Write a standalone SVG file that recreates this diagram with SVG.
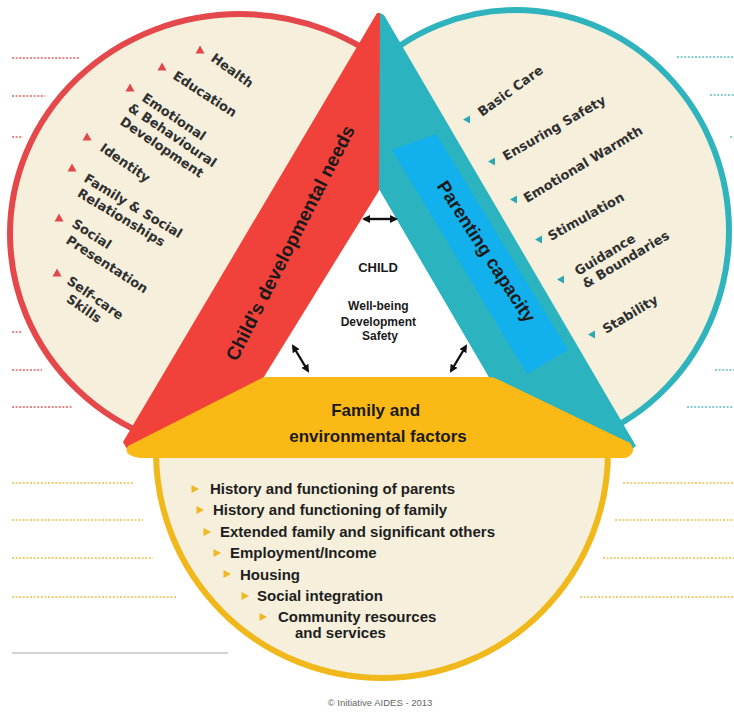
<svg xmlns="http://www.w3.org/2000/svg" width="734" height="713" viewBox="0 0 734 713">
  <defs>
    <style>
      .beige{fill:#f5efdc}
      .lbl{font-family:"DejaVu Sans","Liberation Sans",sans-serif;font-weight:bold;font-size:13px;fill:#303030}
      .lst{font-family:"Liberation Sans",Arial,sans-serif;font-weight:bold;font-size:15px;fill:#1e1e1e}
      .head{font-family:"Liberation Sans",Arial,sans-serif;font-weight:bold;fill:#1a1a1a}
      .dot{stroke-width:2;stroke-dasharray:2 1.6;fill:none}
      .conn{stroke:#111;stroke-width:2.4;fill:none}
    </style>
    <marker id="ah" viewBox="0 0 8 8" refX="6" refY="4" markerWidth="8" markerHeight="8" markerUnits="userSpaceOnUse" orient="auto-start-reverse">
      <path d="M0,0 L8,4 L0,8 Z" fill="#111"/>
    </marker>
    <polygon id="b-red" points="0,-4.5 4.5,3.5 -4.5,3.5" fill="#e2474a"/>
    <polygon id="b-teal" points="-4,-3 4,-3 0,4" fill="#2aa9b4" transform="rotate(-30)"/>
    <polygon id="b-yel" points="-3.5,-4 4,0 -3.5,4" fill="#efb820"/>
  </defs>

  <rect width="734" height="713" fill="#ffffff"/>

  <!-- side rule lines -->
  <g id="rules">
    <g stroke="#e06a6a" class="dot" opacity="0.8">
      <line x1="12" y1="58" x2="80" y2="58"/>
      <line x1="12" y1="96" x2="45" y2="96"/>
      <line x1="12" y1="137" x2="23" y2="137"/>
      <line x1="12" y1="332" x2="22" y2="332"/>
      <line x1="12" y1="370" x2="42" y2="370"/>
      <line x1="12" y1="407" x2="72" y2="407"/>
    </g>
    <g stroke="#6cc0c8" class="dot" opacity="0.8">
      <line x1="677" y1="57" x2="734" y2="57"/>
      <line x1="710" y1="95" x2="734" y2="95"/>
      <line x1="730" y1="137" x2="734" y2="137"/>
      <line x1="715" y1="370" x2="734" y2="370"/>
      <line x1="687" y1="407" x2="734" y2="407"/>
    </g>
    <g stroke="#e8c860" class="dot" opacity="0.85">
      <line x1="12" y1="483" x2="133" y2="483"/>
      <line x1="12" y1="520" x2="143" y2="520"/>
      <line x1="12" y1="558" x2="153" y2="558"/>
      <line x1="12" y1="597" x2="177" y2="597"/>
      <line x1="623" y1="483" x2="734" y2="483"/>
      <line x1="615" y1="520" x2="734" y2="520"/>
      <line x1="603" y1="558" x2="734" y2="558"/>
      <line x1="580" y1="597" x2="734" y2="597"/>
    </g>
    <line x1="12" y1="653" x2="228" y2="653" stroke="#c4c4c4" stroke-width="1.6"/>
  </g>

  <!-- child's developmental needs -->
  <g id="node-needs">
    <ellipse cx="240" cy="234" rx="230" ry="220" class="beige" stroke="#e4484a" stroke-width="6"/>
  </g>

  <!-- parenting capacity -->
  <g id="node-parenting">
    <ellipse cx="516" cy="231" rx="213" ry="221" class="beige" stroke="#2fb4bd" stroke-width="6"/>
  </g>

  <!-- family and environmental factors -->
  <g id="node-family">
    <path d="M156,452 A226,226 0 1 0 608,452 Z" class="beige" stroke="#f1b81c" stroke-width="6"/>
  </g>

  <!-- centre: the child -->
  <g id="node-child">
    <polygon points="379,186 261,380 493,380" fill="#ffffff"/>
    <text class="head" x="378" y="272" font-size="13" text-anchor="middle">CHILD</text>
    <text class="head" font-size="12" text-anchor="middle">
      <tspan x="380" y="310">Well-being</tspan>
      <tspan x="380" y="326">Development</tspan>
      <tspan x="380" y="340">Safety</tspan>
    </text>
  </g>

  <!-- bands of the triangle -->
  <g id="bands">
    <path d="M377,13 L380,13 L380,189 L262,380 L127,449 L123,442 Z" fill="#f0423a"/>
    <path d="M380,13 L384,15 L636,446 L631,450 L490,379 L379,189 Z" fill="#2bb4bf"/>
    <path d="M392,150 L436,134 L568,350 L527,374 Z" fill="#12b0ec"/>
    <path d="M266,377 L489,377 Q493,377 497,379 L630,443 Q638,452 626,458 L140,458 Q122,455 128,446 L260,379 Q263,377 266,377 Z" fill="#fbb915"/>
  </g>

  <!-- band titles -->
  <g id="titles">
    <text class="head" font-size="19" text-anchor="middle" transform="translate(296,246) rotate(-63)">Child’s developmental needs</text>
    <text class="head" font-size="18.5" text-anchor="middle" fill="#14203a" transform="translate(481,255) rotate(57)">Parenting capacity</text>
    <text class="head" font-size="17" text-anchor="middle" fill="#2a1c00">
      <tspan x="378" y="416">Family and</tspan>
      <tspan x="378" y="442">environmental factors</tspan>
    </text>
  </g>

  <!-- left list -->
  <g id="needs-items">
    <use href="#b-red" x="200" y="50"/>
    <use href="#b-red" x="162" y="67"/>
    <use href="#b-red" x="130" y="88"/>
    <use href="#b-red" x="87" y="137"/>
    <use href="#b-red" x="72" y="168"/>
    <use href="#b-red" x="59" y="218"/>
    <use href="#b-red" x="57" y="273"/>
    <text class="lbl" transform="translate(210,60) rotate(36)">Health</text>
    <text class="lbl" transform="translate(172,78) rotate(33)">Education</text>
    <text class="lbl" transform="translate(141,100) rotate(34)"><tspan x="0" y="0">Emotional</tspan><tspan x="-6" y="16">&amp; Behavioural</tspan><tspan x="-5" y="32">Development</tspan></text>
    <text class="lbl" transform="translate(99,150) rotate(35)">Identity</text>
    <text class="lbl" transform="translate(83,181) rotate(31)"><tspan x="0" y="0">Family &amp; Social</tspan><tspan x="2" y="16">Relationships</tspan></text>
    <text class="lbl" transform="translate(71,226) rotate(33)"><tspan x="0" y="0">Social</tspan><tspan x="4" y="17">Presentation</tspan></text>
    <text class="lbl" transform="translate(66,283) rotate(35)"><tspan x="0" y="0">Self-care</tspan><tspan x="10" y="15">Skills</tspan></text>
  </g>

  <!-- right list -->
  <g id="parenting-items">
    <use href="#b-teal" x="468" y="120"/>
    <use href="#b-teal" x="493" y="162"/>
    <use href="#b-teal" x="515" y="200"/>
    <use href="#b-teal" x="540" y="240"/>
    <use href="#b-teal" x="562" y="280"/>
    <use href="#b-teal" x="593" y="335"/>
    <text class="lbl" font-size="11.5" transform="translate(482,117) rotate(-36)">Basic Care</text>
    <text class="lbl" font-size="12.5" transform="translate(506,161) rotate(-30)">Ensuring Safety</text>
    <text class="lbl" font-size="13" transform="translate(527,203) rotate(-31)">Emotional Warmth</text>
    <text class="lbl" font-size="12" transform="translate(551,241) rotate(-29)">Stimulation</text>
    <text class="lbl" font-size="12" transform="translate(578,276) rotate(-31)"><tspan x="0" y="0">Guidance</tspan><tspan x="0" y="15">&amp; Boundaries</tspan></text>
    <text class="lbl" font-size="12.5" transform="translate(606,334) rotate(-31)">Stability</text>
  </g>

  <!-- bottom list -->
  <g id="family-items">
    <use href="#b-yel" x="195" y="489"/>
    <use href="#b-yel" x="200" y="510"/>
    <use href="#b-yel" x="207" y="532"/>
    <use href="#b-yel" x="217" y="553"/>
    <use href="#b-yel" x="227" y="574"/>
    <use href="#b-yel" x="245" y="596"/>
    <use href="#b-yel" x="263" y="617"/>
    <text class="lst" x="210" y="494">History and functioning of parents</text>
    <text class="lst" x="213" y="515">History and functioning of family</text>
    <text class="lst" x="220" y="537">Extended family and significant others</text>
    <text class="lst" x="230" y="558" font-weight="normal" font-size="16" fill="#333">Employment/Income</text>
    <text class="lst" x="240" y="580">Housing</text>
    <text class="lst" x="257" y="601">Social integration</text>
    <text class="lst"><tspan x="278" y="622">Community resources</tspan><tspan x="295" y="638">and services</tspan></text>
  </g>

  <!-- connectors between the three sides -->
  <g id="connectors">
    <line class="conn" x1="364" y1="219" x2="396" y2="219" marker-start="url(#ah)" marker-end="url(#ah)"/>
    <line class="conn" x1="293" y1="346" x2="308" y2="371" marker-start="url(#ah)" marker-end="url(#ah)"/>
    <line class="conn" x1="466" y1="346" x2="451" y2="371" marker-start="url(#ah)" marker-end="url(#ah)"/>
  </g>

  <text x="380" y="706" font-family="Liberation Sans, Arial, sans-serif" font-size="9.5" fill="#666" text-anchor="middle">© Initiative AIDES - 2013</text>
</svg>
